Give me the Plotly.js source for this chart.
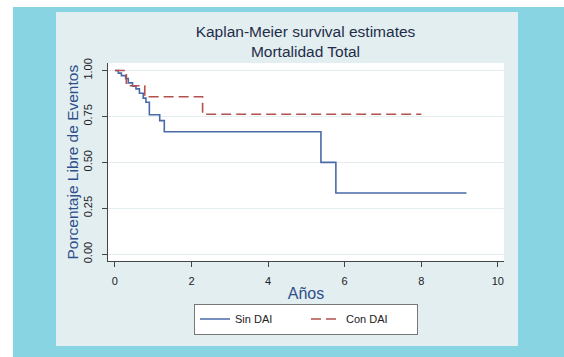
<!DOCTYPE html>
<html>
<head>
<meta charset="utf-8">
<script src="https://cdn.plot.ly/plotly-3.0.1.min.js"></script>
<style>
  html, body { margin: 0; padding: 0; background: #ffffff; }
  #frame { position: absolute; left: 13px; top: 7px; width: 551px; height: 350px; background: #89d4e2; }
  #chart { position: absolute; left: 56px; top: 12px; width: 462px; height: 334px; }
</style>
</head>
<body>
<div id="frame"></div>
<div id="chart"></div>
<script>
// Kaplan-Meier step estimates, time in years
const sinDaiYears = [0, 0.09, 0.17, 0.28, 0.35, 0.46, 0.55, 0.64, 0.74, 0.81, 0.90, 1.17, 1.29, 5.38, 5.77, 9.18];
const sinDaiSurv  = [1, 0.986, 0.972, 0.956, 0.933, 0.915, 0.90, 0.876, 0.85, 0.827, 0.759, 0.727, 0.667, 0.50, 0.333, 0.333];

const conDaiYears = [0, 0.30, 0.78, 2.29, 8.0];
const conDaiSurv  = [1, 0.917, 0.857, 0.762, 0.762];

const yTicks = [0, 0.25, 0.5, 0.75, 1];
const xTicks = [0, 2, 4, 6, 8, 10];

const traces = [
  {
    x: sinDaiYears, y: sinDaiSurv, name: 'Sin DAI', type: 'scatter', mode: 'lines',
    line: { shape: 'hv', color: '#4a6aa6', width: 1.6 }
  },
  {
    x: conDaiYears, y: conDaiSurv, name: 'Con DAI', type: 'scatter', mode: 'lines',
    line: { shape: 'hv', color: '#b4504e', width: 1.6, dash: '10px,5px' }
  }
];

const layout = {
  width: 462, height: 334,
  paper_bgcolor: '#e3eef1',
  plot_bgcolor: '#ffffff',
  margin: { l: 52, r: 14, t: 51, b: 81 },
  font: { family: 'Liberation Sans, Arial, sans-serif', color: '#222222', size: 11 },
  title: {
    text: 'Kaplan-Meier survival estimates<br>Mortalidad Total',
    font: { size: 15.5, color: '#1f2d48' },
    x: 0.54, xanchor: 'center', xref: 'container',
    y: 0.925, yanchor: 'top', yref: 'container'
  },
  xaxis: {
    range: [-0.18, 10.16],
    tickvals: xTicks, ticktext: xTicks.map(String),
    ticks: 'outside', ticklen: 5, tickcolor: '#444', tickwidth: 1,
    ticklabelstandoff: 5,
    showline: true, linecolor: '#444', linewidth: 1,
    showgrid: false, zeroline: false,
    tickfont: { size: 11, color: '#222' },
    title: { text: 'Años', font: { size: 16, color: '#2e4f8a' }, standoff: 1 }
  },
  yaxis: {
    range: [-0.037, 1.041],
    tickvals: yTicks, ticktext: yTicks.map(v => v.toFixed(2)),
    tickangle: -90,
    ticks: 'outside', ticklen: 5, tickcolor: '#444', tickwidth: 1,
    ticklabelstandoff: 6,
    showline: true, linecolor: '#444', linewidth: 1,
    showgrid: true, gridcolor: '#e4eef1', gridwidth: 1,
    zeroline: false,
    tickfont: { size: 11, color: '#222' }
  },
  annotations: [
    {
      // vertical y-axis title, set close to the tick labels
      text: 'Porcentaje Libre de Eventos',
      textangle: -90,
      xref: 'paper', yref: 'paper',
      x: -0.092, y: 0.5, xanchor: 'center', yanchor: 'middle',
      showarrow: false,
      font: { size: 15.5, color: '#2e4f8a' }
    }
  ],
  showlegend: true,
  legend: {
    orientation: 'h',
    x: 0.5, xanchor: 'center', xref: 'paper',
    y: -0.215, yanchor: 'top', yref: 'paper',
    bgcolor: '#ffffff', bordercolor: '#777777', borderwidth: 1,
    font: { size: 11, color: '#222' },
    entrywidth: 66, entrywidthmode: 'pixels'
  }
};

Plotly.newPlot('chart', traces, layout, { displayModeBar: false, staticPlot: true });
</script>
</body>
</html>
